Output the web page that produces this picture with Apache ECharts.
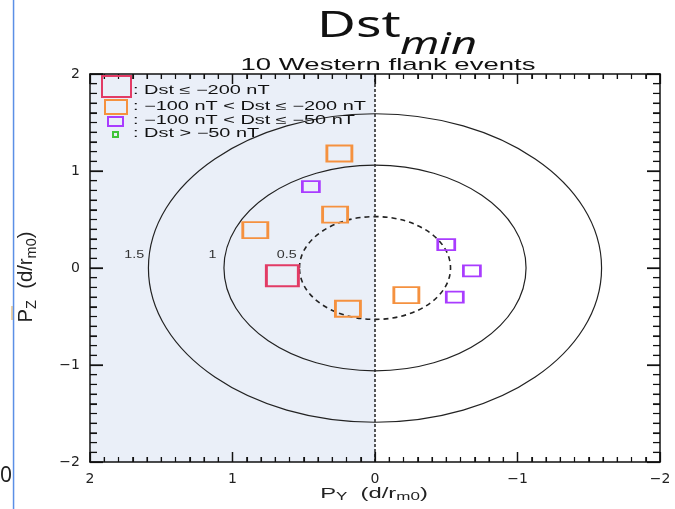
<!DOCTYPE html>
<html>
<head>
<meta charset="utf-8">
<script src="https://cdn.jsdelivr.net/npm/echarts@6/dist/echarts.min.js"></script>
<style>html,body{margin:0;padding:0;background:#fff;}#c{width:675px;height:509px;}</style>
</head>
<body>
<div id="c"></div>
<script>
// ---- data ----
const severeX = [0.65];
const severeY = [-0.08];
const strongX = [0.25, 0.28, 0.84, 0.19, -0.22];
const strongY = [1.18, 0.55, 0.39, -0.42, -0.28];
const moderateX = [0.45, -0.50, -0.68, -0.56];
const moderateY = [0.84, 0.24, -0.03, -0.30];
const weakX = [];
const weakY = [];
const contourLabels = ['0.5', '1', '1.5'];
const contourRadii = [0.53, 1.06, 1.59];
const contourLabelX = [0.62, 1.14, 1.69];
const contourLabelY = [0.13, 0.13, 0.13];
const legendLabels = [': Dst \u2264 \u2212200 nT', ': \u2212100 nT < Dst \u2264 \u2212200 nT', ': \u2212100 nT < Dst \u2264 \u221250 nT', ': Dst > \u221250 nT'];
const titleMain = 'Dst';
const titleSub = 'min';
const subtitle = '10 Western flank events';
const AX_MIN = -2, AX_MAX = 2, AX_STEP = 1, MINOR_SPLIT = 10;

const C_RED = '#e23b65', C_ORA = '#f5913f', C_PUR = '#a93cff', C_GRN = '#40c43a';

function pts(xs, ys) { return xs.map((x, i) => [x, ys[i]]); }
function fmt(v) { return v < 0 ? '\u2212' + Math.abs(v) : String(v); }

// tick positions derived from the axis range (0 = x major, 1 = x minor, 2 = y major, 3 = y minor)
const tickData = [];
for (let i = AX_MIN * MINOR_SPLIT; i <= AX_MAX * MINOR_SPLIT; i++) {
  const v = i / MINOR_SPLIT;
  const major = i % (AX_STEP * MINOR_SPLIT) === 0;
  tickData.push([v, major ? 0 : 1]);
  tickData.push([v, major ? 2 : 3]);
}

const chart = echarts.init(document.getElementById('c'), null, {renderer: 'canvas'});

function mkX(pos, showLabel) {
  return {
    type: 'value', min: AX_MIN, max: AX_MAX, interval: AX_STEP, position: pos, inverse: true, z: 10,
    splitLine: {show: false},
    axisLine: {show: true, onZero: false, lineStyle: {color: '#111', width: 1.5}},
    axisTick: {show: true, inside: true, length: 10, lineStyle: {color: '#111', width: 1.2}},
    minorTick: {show: true, splitNumber: MINOR_SPLIT, length: 5, lineStyle: {color: '#111', width: 1.1}},
    axisLabel: {show: showLabel, formatter: fmt, margin: 10, fontSize: 14, color: '#222', fontFamily: 'DejaVu Sans'}
  };
}
function mkY(pos, showLabel) {
  return {
    type: 'value', min: AX_MIN, max: AX_MAX, interval: AX_STEP, position: pos, z: 10,
    splitLine: {show: false},
    axisLine: {show: true, onZero: false, lineStyle: {color: '#111', width: 1.5}},
    axisTick: {show: true, inside: true, length: 13, lineStyle: {color: '#111', width: 1.2}},
    minorTick: {show: true, splitNumber: MINOR_SPLIT, length: 7, lineStyle: {color: '#111', width: 1.1}},
    axisLabel: {show: showLabel, formatter: fmt, margin: 10, fontSize: 14, color: '#222', fontFamily: 'DejaVu Sans'}
  };
}

function sq(name, data, color, size, bw) {
  return {
    type: 'scatter', name: name, data: data, symbol: 'rect', symbolSize: size,
    itemStyle: {color: 'rgba(0,0,0,0)', borderColor: color, borderWidth: bw, opacity: 1},
    z: 4, silent: true
  };
}

const legendRects = [
  {x: 102, y: 76, w: 29, h: 21, c: C_RED, ty: 91},
  {x: 105, y: 100, w: 22, h: 14, c: C_ORA, ty: 107},
  {x: 108, y: 117, w: 15, h: 9, c: C_PUR, ty: 121},
  {x: 113, y: 132, w: 5, h: 5, c: C_GRN, ty: 134}
];

const graphics = [];
legendRects.forEach((r, i) => {
  graphics.push({type: 'rect', shape: {x: r.x, y: r.y, width: r.w, height: r.h}, style: {fill: 'rgba(0,0,0,0)', stroke: r.c, lineWidth: 2}, z: 20});
  graphics.push({type: 'text', x: 133, y: r.ty, scaleX: 1.66, style: {text: legendLabels[i], font: '12px "Liberation Sans"', fill: '#111', align: 'left', verticalAlign: 'middle'}, z: 20});
});
// titles
graphics.push({type: 'text', x: 317, y: 26, scaleX: 1.44, style: {text: titleMain, font: '37px "Noto Sans"', fill: '#111', align: 'left', verticalAlign: 'middle'}, z: 20});
graphics.push({type: 'text', x: 400, y: 45, scaleX: 1.5, style: {text: titleSub, font: 'italic 30px "Noto Sans"', fill: '#111', align: 'left', verticalAlign: 'middle'}, z: 20});
graphics.push({type: 'text', x: 388, y: 65, scaleX: 1.62, style: {text: subtitle, font: '17px "Liberation Sans"', fill: '#111', align: 'center', verticalAlign: 'middle'}, z: 20});
// axis titles
const richAx = {
  n: {font: '14px "Liberation Sans"', fill: '#222'},
  s: {font: '10px "Liberation Sans"', fill: '#222', padding: [7, 0, 0, 0]}
};
graphics.push({type: 'text', x: 374, y: 494, scaleX: 1.7, style: {rich: richAx, text: '{n|P}{s|Y}{n|  (d/r}{s|m0}{n|)}', align: 'center', verticalAlign: 'middle'}, z: 20});
graphics.push({type: 'text', x: 27, y: 277, rotation: Math.PI / 2, scaleX: 1.45, scaleY: 1.4, style: {rich: richAx, text: '{n|P}{s|Z}{n|  (d/r}{s|m0}{n|)}', align: 'center', verticalAlign: 'middle'}, z: 20});
// slide artefacts on left edge
graphics.push({type: 'text', x: 0, y: 476, style: {text: '0', font: '21px "Noto Sans"', fill: '#222', align: 'left', verticalAlign: 'middle'}, z: 20});
graphics.push({type: 'rect', shape: {x: 11, y: 306, width: 2, height: 14}, style: {fill: '#ecd2a8'}, z: 20});
graphics.push({type: 'rect', shape: {x: 12.8, y: 0, width: 1.5, height: 509}, style: {fill: '#5b8fe6'}, z: 21});

const contourData = contourRadii.map((r, i) => [r, contourLabelX[i], contourLabelY[i], i]);

chart.setOption({
  animation: false,
  backgroundColor: '#fff',
  grid: {left: 90, right: 15, top: 74, bottom: 47, containLabel: false},
  xAxis: [mkX('bottom', true), mkX('top', false)],
  yAxis: [mkY('left', true), mkY('right', false)],
  graphic: graphics,
  series: [
    {
      type: 'scatter', data: [], z: 1, silent: true,
      markArea: {silent: true, itemStyle: {color: '#eaeff8'}, data: [[{xAxis: 0}, {xAxis: 2}]]},
      markLine: {silent: true, symbol: 'none', label: {show: false},
        lineStyle: {color: '#222', type: [3, 2], width: 1.5}, data: [{xAxis: 0}]}
    },
    {
      type: 'custom', z: 3, silent: true, data: contourData,
      renderItem: function (params, api) {
        const r = api.value(0);
        const c = api.coord([0, 0]);
        const s = api.size([r, r]);
        const idx = api.value(3);
        const lp = api.coord([api.value(1), api.value(2)]);
        const dashed = idx === 0;
        const st = {fill: 'none', stroke: '#222', lineWidth: dashed ? 1.6 : 1.2};
        if (dashed) st.lineDash = [5, 4];
        return {
          type: 'group',
          children: [
            {type: 'ellipse', shape: {cx: c[0], cy: c[1], rx: Math.abs(s[0]), ry: Math.abs(s[1])}, style: st},
            {type: 'text', x: lp[0], y: lp[1], scaleX: 1.3,
              style: {text: contourLabels[idx], font: '11px "Liberation Sans"', fill: '#333', align: 'center', verticalAlign: 'middle'}}
          ]
        };
      }
    },
    {
      // inward ticks on all four sides, drawn as thin filled bars positioned through the axis scales
      type: 'custom', z: 11, silent: true, clip: false, data: tickData,
      renderItem: function (params, api) {
        const v = api.value(0), kind = api.value(1);
        const cs = params.coordSys;
        const left = cs.x, right = cs.x + cs.width, top = cs.y, bottom = cs.y + cs.height;
        const w = (kind === 0 || kind === 2) ? 1.3 : 1.1;
        const st = {fill: '#111'};
        if (kind === 0 || kind === 1) {
          const px = api.coord([v, 0])[0];
          const len = kind === 0 ? 10 : 5;
          return {type: 'group', children: [
            {type: 'rect', shape: {x: px - w / 2, y: bottom - len, width: w, height: len}, style: st},
            {type: 'rect', shape: {x: px - w / 2, y: top, width: w, height: len}, style: st}
          ]};
        }
        const py = api.coord([0, v])[1];
        const len = kind === 2 ? 13 : 7;
        return {type: 'group', children: [
          {type: 'rect', shape: {x: left, y: py - w / 2, width: len, height: w}, style: st},
          {type: 'rect', shape: {x: right - len, y: py - w / 2, width: len, height: w}, style: st}
        ]};
      }
    },
    sq('severe', pts(severeX, severeY), C_RED, [32, 21], 2.4),
    sq('strong', pts(strongX, strongY), C_ORA, [25, 16], 2.3),
    sq('moderate', pts(moderateX, moderateY), C_PUR, [17, 11], 2.2),
    sq('weak', pts(weakX, weakY), C_GRN, [6, 5], 2)
  ]
});
</script>
</body>
</html>
